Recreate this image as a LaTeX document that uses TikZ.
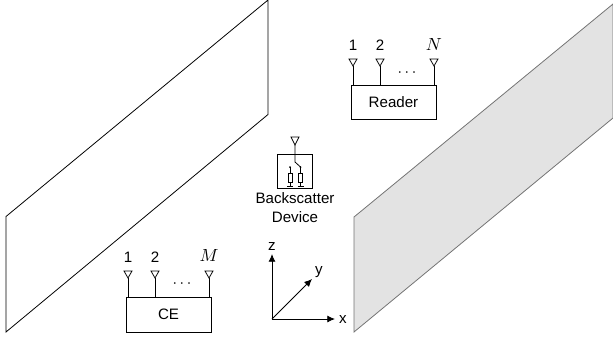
\documentclass[tikz,border=0pt]{standalone}
\usepackage{fontspec}
\setmainfont{Liberation Sans}
\usetikzlibrary{arrows.meta}
\tikzset{
  wall/.style={draw=black, line width=0.45pt},
  unitbox/.style={draw=black, line width=0.45pt, inner sep=0pt, font=\fontsize{8.6}{10.8}\selectfont},
  antenna/.style={draw=black, line width=0.45pt},
  axis/.style={-{Latex[length=4.4pt,width=4pt]}, line width=0.5pt},
  lbl/.style={font=\fontsize{8.6}{10.8}\selectfont, inner sep=0pt, align=center},
  mathlbl/.style={font=\fontsize{10.4}{11}\selectfont, inner sep=0pt}
}
\newcommand{\antup}[3]{%
  \coordinate (#3foot) at (#1,#2);
  \coordinate (#3neck) at (#1,#2-19);
  \draw[antenna] (#3foot) -- (#3neck);
  \draw[antenna] (#3neck) -- ++(-4,-7) -- ++(8,0) -- cycle;
}
\begin{document}
\begin{tikzpicture}[x=0.02cm,y=-0.02cm]
  \useasboundingbox (0,0) rectangle (613,339);

  % Walls
  \draw[wall] (6,216.5) -- (268,0) -- (268,114.5) -- (6,332) -- cycle;
  \draw[wall, draw=black!55, fill=gray!22] (354,217) -- (613,4) -- (613,118) -- (354,332) -- cycle;

  % Reader
  \node[unitbox, minimum width=1.7cm, minimum height=0.68cm] (reader) at (393.5,102) {Reader};
  \antup{353}{85}{ra}
  \antup{380}{85}{rb}
  \antup{434}{85}{rc}
  \node[lbl] (rn1) at (353,45) {1};
  \node[lbl] (rn2) at (380,45) {2};
  \node[mathlbl] (rn3) at (434,44) {$N$};
  \node[lbl] (rdots) at (407,73) {$\cdots$};

  % CE
  \node[unitbox, minimum width=1.7cm, minimum height=0.7cm] (ce) at (168.5,314.5) {CE};
  \antup{128}{297}{ca}
  \antup{155}{297}{cb}
  \antup{209}{297}{cc}
  \node[lbl] (cn1) at (128,257) {1};
  \node[lbl] (cn2) at (155,257) {2};
  \node[mathlbl] (cn3) at (209,255) {$M$};
  \node[lbl] (cdots) at (182,284) {$\cdots$};

  % Backscatter device
  \node[draw, line width=0.45pt, minimum width=0.7cm, minimum height=0.68cm, inner sep=0pt] (dev) at (294.5,171) {};
  \node[lbl] (devlabel) at (295,207.5) {Backscatter\\Device};
  \draw[antenna] (295,145) -- (295,162) -- (300.5,167);
  \draw[antenna] (295,145) -- (291,137) -- (299,137) -- cycle;
  \fill (290,167) circle (1);
  \fill (300.5,167) circle (1);
  \draw[antenna] (290,167) -- (290,186);
  \draw[antenna] (300.5,167) -- (300.5,186);
  \draw[antenna, fill=white] (288,173) rectangle (292,182);
  \draw[antenna, fill=white] (298.5,173) rectangle (302.5,182);
  \draw[antenna] (287,186) -- (293,186);
  \draw[antenna] (297.5,186) -- (303.5,186);

  % Axes
  \coordinate (origin) at (272,319);
  \coordinate (xend) at (335,319);
  \coordinate (yend) at (312,279);
  \coordinate (zend) at (272,254);
  \draw[axis] (origin) -- (xend);
  \draw[axis] (origin) -- (yend);
  \draw[axis] (origin) -- (zend);
  \node[lbl] (xlabel) at (343,319.5) {x};
  \node[lbl] (ylabel) at (319,272) {y};
  \node[lbl] (zlabel) at (272,246.5) {z};
\end{tikzpicture}
\end{document}
